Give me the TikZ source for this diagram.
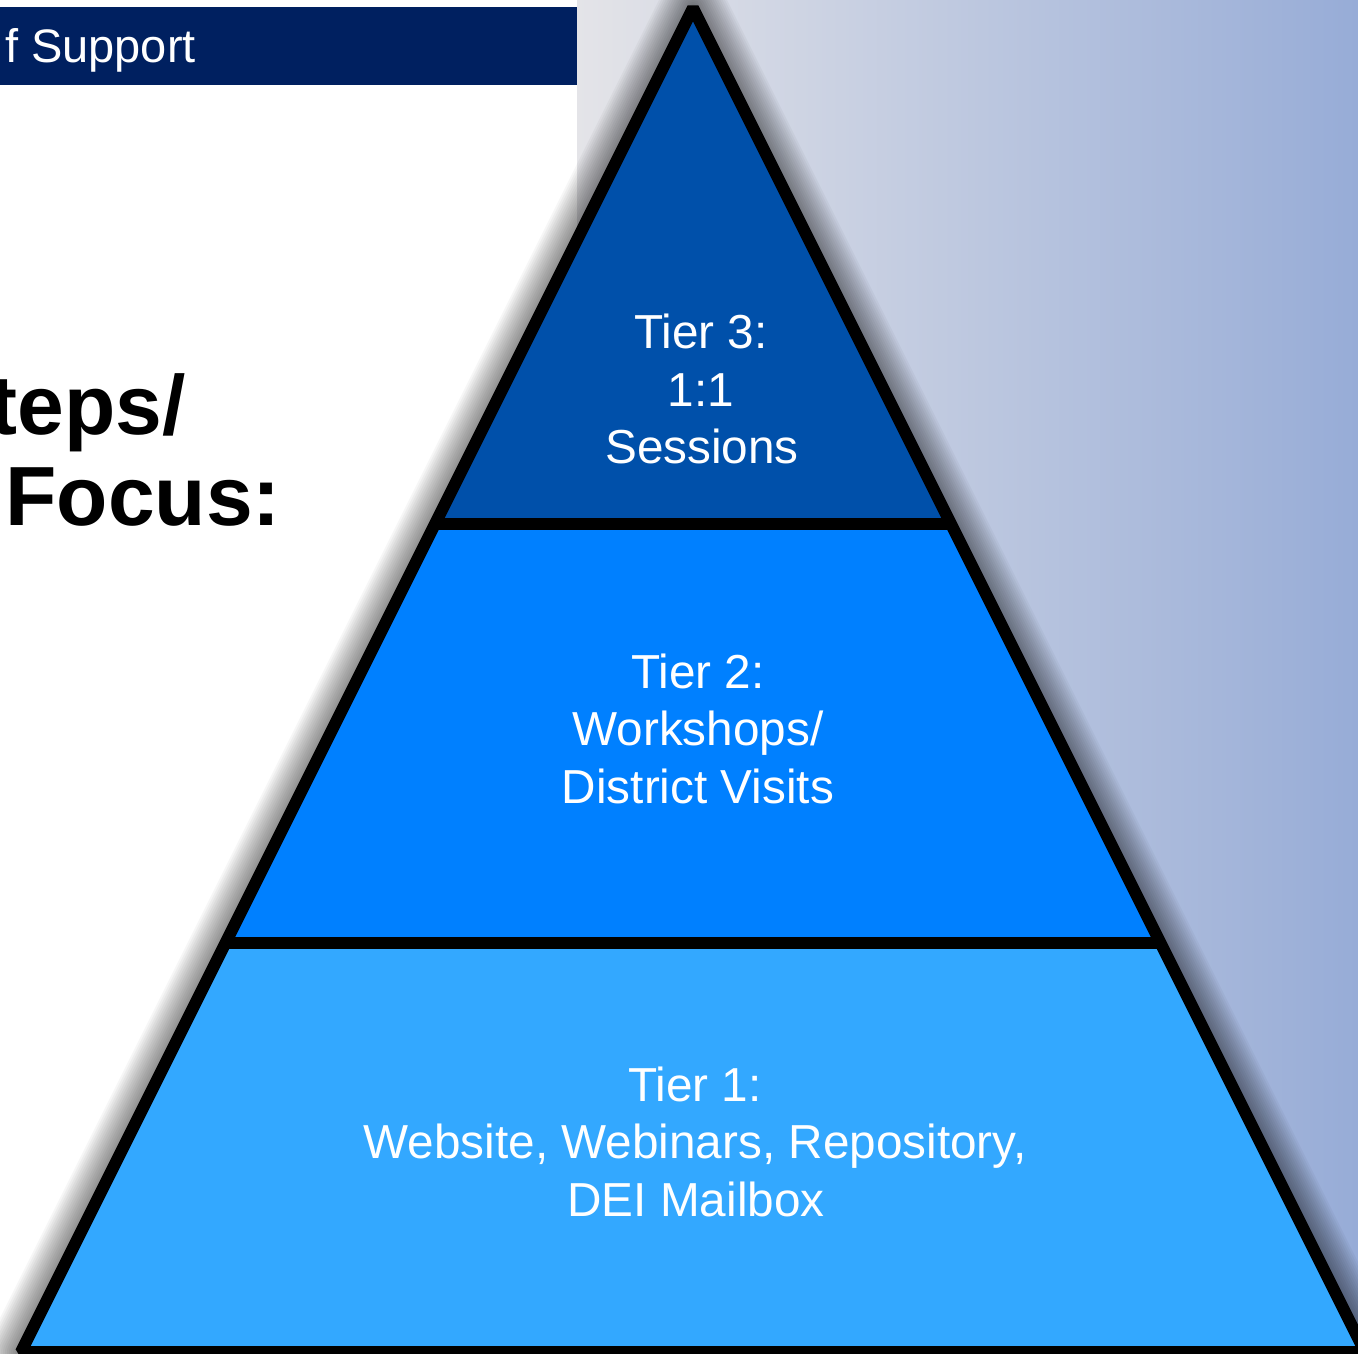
\documentclass[tikz,border=0pt]{standalone}
\usepackage{fontspec}
\setmainfont{Liberation Sans}
\definecolor{navy}{HTML}{002060}
\definecolor{tierthree}{HTML}{0050AA}
\definecolor{tiertwo}{HTML}{0080FF}
\definecolor{tierone}{HTML}{33A8FF}
\definecolor{bgleft}{HTML}{E4E4E8}
\definecolor{bgright}{HTML}{97ACD7}
\begin{document}
\begin{tikzpicture}[x=1pt,y=-1pt,
  tiertext/.style={text=white,font=\fontsize{47.7}{56}\selectfont,inner sep=0pt,anchor=base},
  bigtext/.style={text=black,font=\fontsize{84}{92}\selectfont\bfseries,inner sep=0pt,anchor=base east},
  outline/.style={draw=black,line width=12pt,line join=bevel},
  divider/.style={draw=black,line width=12pt},
  shadowlayer/.style={draw=black,draw opacity=0.035,line join=round}]
\useasboundingbox (0,0) rectangle (1358,1354);
\clip (0,0) rectangle (1358,1354);
\fill[white] (0,0) rectangle (1358,1354);
\shade[left color=bgleft,right color=bgright] (577,0) rectangle (1358,1354);
% header bar
\fill[navy] (0,7) rectangle (577,85);
\node[text=white,font=\fontsize{47}{56}\selectfont,inner sep=0pt,anchor=base east] (hdr) at (196,63) {f Support};
% left heading
\node[bigtext] (lh1) at (186,434) {teps/};
\node[bigtext] (lh2) at (281,525) {Focus:};
% pyramid geometry
\coordinate (apex) at (693,8);
\coordinate (bl) at (21,1352);
\coordinate (br) at (1365,1352);
\coordinate (d1l) at (435,524);
\coordinate (d1r) at (951,524);
\coordinate (d2l) at (225.5,943);
\coordinate (d2r) at (1160.5,943);
% soft shadow
\begin{scope}[shift={(18,4)}]
  \fill[black,fill opacity=0.4] (apex) -- (bl) -- (br) -- cycle;
  \foreach \i in {1,...,17}{
    \draw[shadowlayer,line width=4*\i pt] (apex) -- (bl) -- (br) -- cycle;
  }
\end{scope}
% tiers
\fill[tierthree] (apex) -- (d1l) -- (d1r) -- cycle;
\fill[tiertwo] (d1l) -- (d2l) -- (d2r) -- (d1r) -- cycle;
\fill[tierone] (d2l) -- (bl) -- (br) -- (d2r) -- cycle;
\draw[outline] (apex) -- (bl) -- (br) -- cycle;
\draw[divider] (d1l) -- (d1r);
\draw[divider] (d2l) -- (d2r);
% texts
\node[tiertext] (t3a) at (701,348) {Tier 3:};
\node[tiertext] (t3b) at (701,406) {1:1};
\node[tiertext] (t3c) at (702,463) {Sessions};
\node[tiertext] (t2a) at (698,688) {Tier 2:};
\node[tiertext] (t2b) at (698,745.5) {Workshops/};
\node[tiertext] (t2c) at (698,803) {District Visits};
\node[tiertext] (t1a) at (695,1101) {Tier 1:};
\node[tiertext] (t1b) at (695,1158) {Website, Webinars, Repository,};
\node[tiertext] (t1c) at (696,1216) {DEI Mailbox};
\end{tikzpicture}
\end{document}
